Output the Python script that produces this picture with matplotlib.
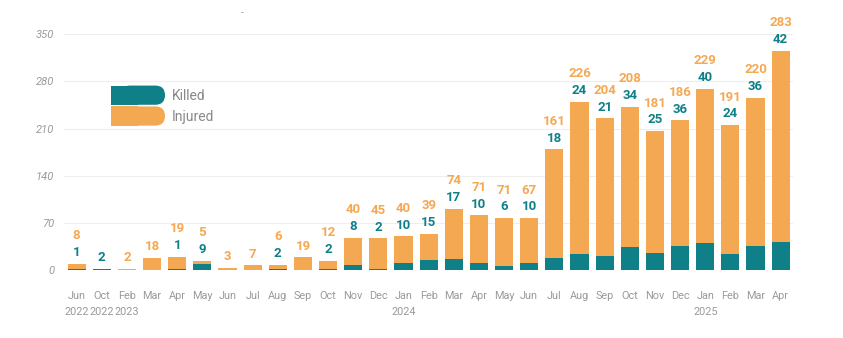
import matplotlib.pyplot as plt
from matplotlib.patches import Patch, FancyBboxPatch, Rectangle
from matplotlib.legend_handler import HandlerBase

months = ["Jun\n2022", "Oct\n2022", "Feb\n2023", "Mar", "Apr", "May", "Jun", "Jul", "Aug", "Sep",
          "Oct", "Nov", "Dec", "Jan\n2024", "Feb", "Mar", "Apr", "May", "Jun", "Jul",
          "Aug", "Sep", "Oct", "Nov", "Dec", "Jan\n2025", "Feb", "Mar", "Apr"]
killed = [1, 2, 0, 0, 1, 9, 0, 0, 2, 0,
          2, 8, 2, 10, 15, 17, 10, 6, 10, 18,
          24, 21, 34, 25, 36, 40, 24, 36, 42]
injured = [8, 0, 2, 18, 19, 5, 3, 7, 6, 19,
           12, 40, 45, 40, 39, 74, 71, 71, 67, 161,
           226, 204, 208, 181, 186, 229, 191, 220, 283]

teal = "#0f7f88"
orange = "#f5a852"

plt.rcParams['font.family'] = ['Roboto', 'DejaVu Sans']


class HalfRoundHandler(HandlerBase):
    # square left end, rounded right end
    def create_artists(self, legend, orig_handle, xdescent, ydescent, width, height, fontsize, trans):
        c = orig_handle.get_facecolor()
        r = height / 2
        left = Rectangle((-xdescent, -ydescent), width / 2, height, facecolor=c,
                         edgecolor="none", transform=trans)
        right = FancyBboxPatch((-xdescent + r, -ydescent), width - 2 * r, height,
                               boxstyle="round,pad=0,rounding_size=%f" % r,
                               facecolor=c, edgecolor="none", transform=trans)
        # extend so the rounded end reaches the full width
        right.set_width(width - r)
        return [left, right]


fig = plt.figure(figsize=(8.43, 3.38), dpi=100)
ax = fig.add_axes([0.076, 0.201, 0.865, 0.698])

x = range(len(months))
ax.bar(x, killed, width=0.72, color=teal, zorder=2)
ax.bar(x, injured, width=0.72, bottom=killed, color=orange, zorder=2)

# value labels: killed just above bar, injured above that
for i in x:
    top = killed[i] + injured[i]
    pos = top + 7
    if killed[i] > 0:
        ax.text(i, pos, str(killed[i]), ha="center", va="bottom", color=teal,
                fontsize=9.5, fontweight="bold", clip_on=False)
        pos += 25
    if injured[i] > 0:
        ax.text(i, pos, str(injured[i]), ha="center", va="bottom", color=orange,
                fontsize=9.5, fontweight="bold", clip_on=False)

ax.set_xlim(-0.5, len(months) - 0.5)
ax.set_ylim(0, 350)
ax.set_yticks([0, 70, 140, 210, 280, 350])
ax.set_xticks(list(x))
ax.set_xticklabels(months, fontsize=7.8, color="#9a9a9a", linespacing=1.75)
for t in ax.get_yticklabels():
    t.set_fontstyle("italic")
    t.set_color("#9a9a9a")
    t.set_fontsize(8)
ax.tick_params(axis="both", length=0)
ax.tick_params(axis="y", pad=7)
ax.tick_params(axis="x", pad=15)
ax.grid(axis="y", color="#eeeeee", linewidth=0.8, zorder=0)
for s in ax.spines.values():
    s.set_visible(False)

handles = [Patch(facecolor=teal, label="Killed"), Patch(facecolor=orange, label="Injured")]
leg = ax.legend(handles=handles, loc="upper left", bbox_to_anchor=(0.047, 0.835),
                frameon=False, handlelength=3.9, handleheight=1.75, fontsize=10,
                labelspacing=0.12, handletextpad=0.5,
                handler_map={Patch: HalfRoundHandler()})
for t in leg.get_texts():
    t.set_color("#888888")

fig.text(0.287, 0.962, "-", color="#999999", fontsize=7, ha="center", va="center")

fig.savefig("out.png", dpi=100)
